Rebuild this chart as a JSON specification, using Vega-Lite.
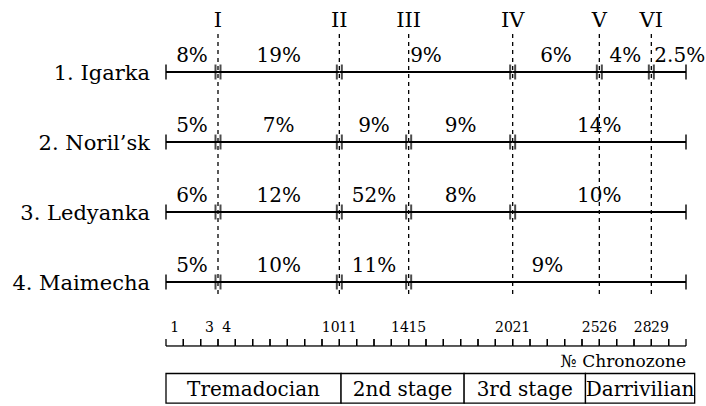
{
  "$schema": "https://vega.github.io/schema/vega-lite/v6.json",
  "width": 520,
  "height": 404,
  "autosize": {"type": "none"},
  "padding": {"left": 166, "top": 2, "right": 20, "bottom": 0},
  "background": "white",
  "config": {
    "view": {"stroke": null},
    "font": "DejaVu Serif",
    "text": {"font": "DejaVu Serif", "color": "black"},
    "rule": {"color": "black"},
    "tick": {"color": "black"}
  },
  "datasets": {
    "segments": [
      {"row": 1, "site": "1. Igarka", "start": 0, "end": 3, "pct": "8%"},
      {"row": 1, "site": "1. Igarka", "start": 3, "end": 10, "pct": "19%"},
      {"row": 1, "site": "1. Igarka", "start": 10, "end": 20, "pct": "9%"},
      {"row": 1, "site": "1. Igarka", "start": 20, "end": 25, "pct": "6%"},
      {"row": 1, "site": "1. Igarka", "start": 25, "end": 28, "pct": "4%"},
      {"row": 1, "site": "1. Igarka", "start": 28, "end": 30, "pct": "2.5%"},
      {"row": 2, "site": "2. Noril’sk", "start": 0, "end": 3, "pct": "5%"},
      {"row": 2, "site": "2. Noril’sk", "start": 3, "end": 10, "pct": "7%"},
      {"row": 2, "site": "2. Noril’sk", "start": 10, "end": 14, "pct": "9%"},
      {"row": 2, "site": "2. Noril’sk", "start": 14, "end": 20, "pct": "9%"},
      {"row": 2, "site": "2. Noril’sk", "start": 20, "end": 30, "pct": "14%"},
      {"row": 3, "site": "3. Ledyanka", "start": 0, "end": 3, "pct": "6%"},
      {"row": 3, "site": "3. Ledyanka", "start": 3, "end": 10, "pct": "12%"},
      {"row": 3, "site": "3. Ledyanka", "start": 10, "end": 14, "pct": "52%"},
      {"row": 3, "site": "3. Ledyanka", "start": 14, "end": 20, "pct": "8%"},
      {"row": 3, "site": "3. Ledyanka", "start": 20, "end": 30, "pct": "10%"},
      {"row": 4, "site": "4. Maimecha", "start": 0, "end": 3, "pct": "5%"},
      {"row": 4, "site": "4. Maimecha", "start": 3, "end": 10, "pct": "10%"},
      {"row": 4, "site": "4. Maimecha", "start": 10, "end": 14, "pct": "11%"},
      {"row": 4, "site": "4. Maimecha", "start": 14, "end": 30, "pct": "9%"}
    ],
    "boundaries": [
      {"name": "I", "pos": 3},
      {"name": "II", "pos": 10},
      {"name": "III", "pos": 14},
      {"name": "IV", "pos": 20},
      {"name": "V", "pos": 25},
      {"name": "VI", "pos": 28}
    ],
    "zones": [
      {"n": 1, "label": "1"}, {"n": 2, "label": ""}, {"n": 3, "label": "3"},
      {"n": 4, "label": "4"}, {"n": 5, "label": ""}, {"n": 6, "label": ""},
      {"n": 7, "label": ""}, {"n": 8, "label": ""}, {"n": 9, "label": ""},
      {"n": 10, "label": "10"}, {"n": 11, "label": "11"}, {"n": 12, "label": ""},
      {"n": 13, "label": ""}, {"n": 14, "label": "14"}, {"n": 15, "label": "15"},
      {"n": 16, "label": ""}, {"n": 17, "label": ""}, {"n": 18, "label": ""},
      {"n": 19, "label": ""}, {"n": 20, "label": "20"}, {"n": 21, "label": "21"},
      {"n": 22, "label": ""}, {"n": 23, "label": ""}, {"n": 24, "label": ""},
      {"n": 25, "label": "25"}, {"n": 26, "label": "26"}, {"n": 27, "label": ""},
      {"n": 28, "label": "28"}, {"n": 29, "label": "29"}, {"n": 30, "label": ""}
    ],
    "stages": [
      {"stage": "Tremadocian", "start": 0, "end": 10.1},
      {"stage": "2nd stage", "start": 10.1, "end": 17.2},
      {"stage": "3rd stage", "start": 17.2, "end": 24.2},
      {"stage": "Darrivilian", "start": 24.2, "end": 30.5}
    ]
  },
  "layer": [
    {
      "data": {"name": "boundaries"},
      "mark": {"type": "rule", "strokeDash": [4, 4], "strokeWidth": 1.3},
      "encoding": {
        "x": {"field": "pos", "type": "quantitative", "scale": {"domain": [0, 30], "nice": false, "zero": false}, "axis": null},
        "y": {"datum": 0.457, "type": "quantitative", "scale": {"domain": [0, 5.7714], "nice": false, "zero": false, "reverse": true}, "axis": null},
        "y2": {"datum": 4.229}
      }
    },
    {
      "data": {"name": "boundaries"},
      "mark": {"type": "text", "fontSize": 21, "baseline": "alphabetic", "align": "center"},
      "encoding": {
        "x": {"field": "pos", "type": "quantitative"},
        "y": {"datum": 0.353, "type": "quantitative"},
        "text": {"field": "name"}
      }
    },
    {
      "data": {"name": "segments"},
      "mark": {"type": "rule", "strokeWidth": 2},
      "encoding": {
        "x": {"field": "start", "type": "quantitative"},
        "x2": {"field": "end"},
        "y": {"field": "row", "type": "quantitative"}
      }
    },
    {
      "data": {"name": "segments"},
      "transform": [{"filter": "datum.start == 0"}],
      "mark": {"type": "tick", "orient": "vertical", "size": 15, "thickness": 2},
      "encoding": {
        "x": {"field": "start", "type": "quantitative"},
        "y": {"field": "row", "type": "quantitative"}
      }
    },
    {
      "data": {"name": "segments"},
      "transform": [{"filter": "datum.end == 30"}],
      "mark": {"type": "tick", "orient": "vertical", "size": 15, "thickness": 2},
      "encoding": {
        "x": {"field": "end", "type": "quantitative"},
        "y": {"field": "row", "type": "quantitative"}
      }
    },
    {
      "data": {"name": "segments"},
      "transform": [{"filter": "datum.start > 0"}],
      "mark": {"type": "tick", "orient": "vertical", "size": 15, "thickness": 2, "xOffset": -2.5},
      "encoding": {
        "x": {"field": "start", "type": "quantitative"},
        "y": {"field": "row", "type": "quantitative"}
      }
    },
    {
      "data": {"name": "segments"},
      "transform": [{"filter": "datum.start > 0"}],
      "mark": {"type": "tick", "orient": "vertical", "size": 15, "thickness": 2, "xOffset": 2.5},
      "encoding": {
        "x": {"field": "start", "type": "quantitative"},
        "y": {"field": "row", "type": "quantitative"}
      }
    },
    {
      "data": {"name": "segments"},
      "transform": [{"filter": "datum.start != 28"}, {"calculate": "(datum.start + datum.end) / 2", "as": "mid"}],
      "mark": {"type": "text", "fontSize": 20, "baseline": "alphabetic", "align": "center", "dy": -10},
      "encoding": {
        "x": {"field": "mid", "type": "quantitative"},
        "y": {"field": "row", "type": "quantitative"},
        "text": {"field": "pct"}
      }
    },
    {
      "data": {"name": "segments"},
      "transform": [{"filter": "datum.start == 28"}],
      "mark": {"type": "text", "fontSize": 20, "baseline": "alphabetic", "align": "left", "dx": 3, "dy": -10},
      "encoding": {
        "x": {"field": "start", "type": "quantitative"},
        "y": {"field": "row", "type": "quantitative"},
        "text": {"field": "pct"}
      }
    },
    {
      "data": {"name": "segments"},
      "transform": [{"filter": "datum.start == 0"}],
      "mark": {"type": "text", "fontSize": 21, "baseline": "alphabetic", "align": "right", "dx": -16, "dy": 8},
      "encoding": {
        "x": {"field": "start", "type": "quantitative"},
        "y": {"field": "row", "type": "quantitative"},
        "text": {"field": "site"}
      }
    },
    {
      "data": {"name": "zones"},
      "transform": [{"calculate": "datum.n - 1", "as": "lo"}],
      "mark": {"type": "rule", "strokeWidth": 1.3},
      "encoding": {
        "x": {"field": "lo", "type": "quantitative"},
        "x2": {"field": "n"},
        "y": {"datum": 4.914, "type": "quantitative"}
      }
    },
    {
      "data": {"name": "zones"},
      "transform": [{"calculate": "datum.n - 1", "as": "lo"}],
      "mark": {"type": "rule", "strokeWidth": 1.3},
      "encoding": {
        "x": {"field": "lo", "type": "quantitative"},
        "y": {"datum": 4.814, "type": "quantitative"},
        "y2": {"datum": 4.914}
      }
    },
    {
      "data": {"name": "zones"},
      "mark": {"type": "rule", "strokeWidth": 1.3},
      "encoding": {
        "x": {"field": "n", "type": "quantitative"},
        "y": {"datum": 4.814, "type": "quantitative"},
        "y2": {"datum": 4.914}
      }
    },
    {
      "data": {"name": "zones"},
      "transform": [{"filter": "datum.label != ''"}, {"calculate": "datum.n - 0.5", "as": "mid"}],
      "mark": {"type": "text", "fontSize": 14, "baseline": "alphabetic", "align": "center"},
      "encoding": {
        "x": {"field": "mid", "type": "quantitative"},
        "y": {"datum": 4.714, "type": "quantitative"},
        "text": {"field": "label"}
      }
    },
    {
      "data": {"values": [{"caption": "№ Chronozone", "at": 30}]},
      "mark": {"type": "text", "fontSize": 17, "baseline": "alphabetic", "align": "right"},
      "encoding": {
        "x": {"field": "at", "type": "quantitative"},
        "y": {"datum": 5.21, "type": "quantitative"},
        "text": {"field": "caption"}
      }
    },
    {
      "data": {"name": "stages"},
      "mark": {"type": "rect", "fill": "white", "stroke": "black", "strokeWidth": 1.3},
      "encoding": {
        "x": {"field": "start", "type": "quantitative"},
        "x2": {"field": "end"},
        "y": {"datum": 5.307, "type": "quantitative"},
        "y2": {"datum": 5.729}
      }
    },
    {
      "data": {"name": "stages"},
      "transform": [{"calculate": "(datum.start + datum.end) / 2", "as": "mid"}],
      "mark": {"type": "text", "fontSize": 20, "baseline": "alphabetic", "align": "center"},
      "encoding": {
        "x": {"field": "mid", "type": "quantitative"},
        "y": {"datum": 5.63, "type": "quantitative"},
        "text": {"field": "stage"}
      }
    }
  ]
}
